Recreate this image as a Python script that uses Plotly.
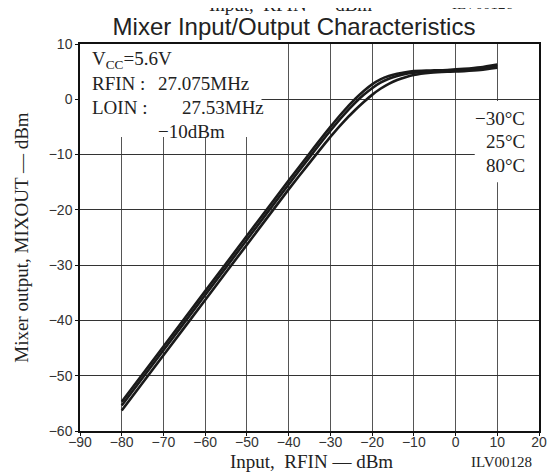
import plotly.graph_objects as go

# input power (dBm) and mixer output (dBm) per temperature
rfin = [-80, -70, -60, -50, -40, -35, -30, -27, -24, -22, -20, -18, -16, -14, -12, -10, -6, -2, 2, 6, 10]
out_m30 = [-54.7, -44.7, -34.7, -24.7, -14.7, -9.8, -5.0, -2.3, 0.1, 1.5, 2.7, 3.6, 4.2, 4.6, 4.9, 5.1, 5.2, 5.3, 5.5, 5.8, 6.3]
out_25 = [-55.4, -45.4, -35.4, -25.4, -15.4, -10.5, -5.7, -3.0, -0.6, 0.8, 2.0, 3.0, 3.7, 4.2, 4.6, 4.8, 5.0, 5.1, 5.3, 5.6, 6.0]
out_80 = [-56.3, -46.3, -36.3, -26.3, -16.3, -11.5, -6.8, -4.2, -1.9, -0.5, 0.8, 1.9, 2.8, 3.5, 4.0, 4.4, 4.8, 5.0, 5.1, 5.3, 5.7]

temps = ["\u221230\u00b0C", "25\u00b0C", "80\u00b0C"]
cond_keys = ["V<sub>CC</sub>=5.6V", "RFIN :", "LOIN :", ""]
cond_vals = ["", "27.075MHz", "27.53MHz", "\u221210dBm"]

SERIF = "Liberation Serif, Times New Roman, serif"
SANS = "Liberation Sans, Arial, sans-serif"
INK = "#222"

fig = go.Figure()
for name, ys in zip(temps, [out_m30, out_25, out_80]):
    fig.add_trace(go.Scatter(x=rfin, y=ys, mode="lines", name=name, showlegend=False,
                             line=dict(color="#1a1a1a", width=2.6, shape="spline", smoothing=0.6)))

# white boxes behind the text blocks (they cut the grid like the original)
fig.add_shape(type="rect", xref="x", yref="y", x0=-90, x1=-46.5, y0=-6.8, y1=10,
              fillcolor="white", line_width=0, layer="between")
fig.add_shape(type="rect", xref="x", yref="y", x0=4.6, x1=20, y0=-15, y1=-0.3,
              fillcolor="white", line_width=0, layer="between")

# condition text, upper left
val_x = [-71.9, -71.9, -66.0, -71.9]
for i, (k, v) in enumerate(zip(cond_keys, cond_vals)):
    yy = 7.1 - i * 4.33
    if k:
        fig.add_annotation(x=-87.65, y=yy, xref="x", yref="y", text=k, showarrow=False,
                           xanchor="left", yanchor="middle", font=dict(family=SERIF, size=19, color=INK))
    if v:
        fig.add_annotation(x=val_x[i], y=yy, xref="x", yref="y", text=v, showarrow=False,
                           xanchor="left", yanchor="middle", font=dict(family=SERIF, size=19, color=INK))

# temperature labels, right
for i, t in enumerate(temps):
    fig.add_annotation(x=17.06, y=-3.4 - i * 4.25, xref="x", yref="y", text=t, showarrow=False,
                       xanchor="right", yanchor="middle", font=dict(family=SERIF, size=19, color=INK))

# axis titles and figure codes
fig.add_annotation(x=-34.5, y=-0.08, xref="x", yref="paper", text="Input,  RFIN \u2014 dBm", showarrow=False,
                   xanchor="center", yanchor="middle", font=dict(family=SERIF, size=19, color=INK))
fig.add_annotation(x=11.0, y=-0.08, xref="x", yref="paper", text="ILV00128", showarrow=False,
                   xanchor="center", yanchor="middle", font=dict(family=SERIF, size=15, color=INK))
fig.add_annotation(x=-0.128, y=0.5, xref="paper", yref="paper", text="Mixer output, MIXOUT \u2014 dBm",
                   showarrow=False, textangle=-90, xanchor="center", yanchor="middle",
                   font=dict(family=SERIF, size=19, color=INK))
# stray caption from the previous chart, cut off at the top edge
fig.add_annotation(x=-39.5, y=1.103, xref="x", yref="paper", text="Input,  RFIN \u2014 dBm", showarrow=False,
                   xanchor="center", yanchor="middle", font=dict(family=SERIF, size=19, color=INK))
fig.add_annotation(x=6.5, y=1.103, xref="x", yref="paper", text="ILV00126", showarrow=False,
                   xanchor="center", yanchor="middle", font=dict(family=SERIF, size=15, color=INK))

# page body adds an 8px offset, margins compensate for it
fig.update_layout(
    width=550, height=473,
    margin=dict(l=72, r=11, t=36, b=50),
    paper_bgcolor="white", plot_bgcolor="white",
    title=dict(text="Mixer Input/Output Characteristics", x=0.52, y=0.96, xanchor="center", yanchor="middle",
               font=dict(family=SANS, size=24, color=INK)),
)
fig.update_xaxes(range=[-90, 20], dtick=10, tick0=-90, showgrid=True, gridcolor="#555", gridwidth=1,
                 showline=True, linecolor="#111", linewidth=1.5, mirror=True, zeroline=False,
                 ticks="outside", ticklen=3, tickcolor="#111", ticklabelstandoff=-6,
                 tickfont=dict(family=SANS, size=14, color="#333"))
fig.update_yaxes(range=[-60, 10], dtick=10, tick0=-60, showgrid=True, gridcolor="#333", gridwidth=1,
                 showline=True, linecolor="#111", linewidth=1.5, mirror=True, zeroline=False,
                 ticks="outside", ticklen=3, tickcolor="#111",
                 tickfont=dict(family=SANS, size=14, color="#333"))

fig.write_html("out.html")
